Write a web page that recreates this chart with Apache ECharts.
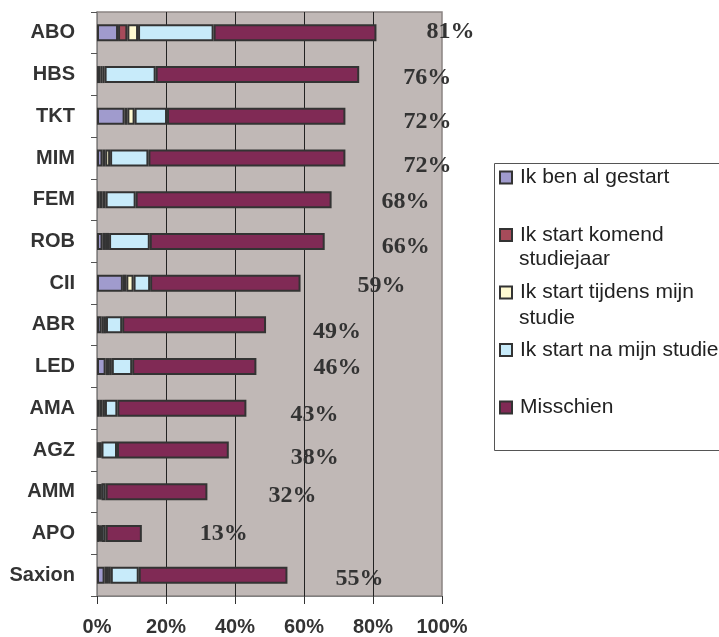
<!DOCTYPE html>
<html>
<head>
<meta charset="utf-8">
<script src="https://cdn.jsdelivr.net/npm/echarts@6/dist/echarts.min.js"></script>
<style>
html,body{margin:0;padding:0;background:#fff;}
#chart{width:719px;height:637px;}
</style>
</head>
<body>
<div id="chart"></div>
<script>
// Categories (top to bottom)
var categories = ['ABO','HBS','TKT','MIM','FEM','ROB','CII','ABR','LED','AMA','AGZ','AMM','APO','Saxion'];
// Series values (percent)
var benAlGestart   = [6.1, 1.0, 8.0, 1.6, 0.8, 1.6, 7.5, 1.3, 2.5, 0.8, 0.5, 0.5, 0.7, 2.2];
var startKomend    = [2.7, 0.6, 0.8, 0.8, 0.8, 1.0, 1.0, 0.7, 1.0, 0.8, 0.4, 0.4, 0.3, 1.0];
var startTijdens   = [3.1, 0.6, 2.1, 1.4, 0.9, 0.9, 2.1, 0.6, 0.8, 0.7, 0.4, 0.4, 0.3, 0.8];
var startNa        = [21.9, 14.8, 9.4, 11.1, 8.7, 11.8, 4.8, 4.7, 5.9, 3.6, 4.5, 1.2, 1.2, 8.1];
var misschien      = [47.2, 59.0, 51.7, 57.1, 56.8, 50.7, 43.6, 41.7, 36.0, 37.4, 32.4, 29.5, 10.5, 43.1];
// Total labels shown beside bars
var totals         = [81, 76, 72, 72, 68, 66, 59, 49, 46, 43, 38, 32, 13, 55];
// Axis tick labels
var xTicks = ['0%','20%','40%','60%','80%','100%'];
var seriesNames = ['Ik ben al gestart','Ik start komend studiejaar','Ik start tijdens mijn studie','Ik start na mijn studie','Misschien'];

// label placement (style): [dx, dy] px from bar end
var labelShift = [[50,-1],[44,3],[58,6],[58,8],[50,2],[57,5],[57,3],[47,7],[57,1],[44,7],[62,8],[61,4],[58,0],[48,4]];

var colors = ['#a09bcd','#a64b5a','#fffad2','#c8ebfa','#802a55'];
var values = [benAlGestart, startKomend, startTijdens, startNa, misschien];

var series = values.map(function(arr, si){
  var s = {
    name: seriesNames[si],
    type: 'bar',
    stack: 'total',
    barWidth: 17,
    itemStyle: {color: colors[si], borderColor: '#333', borderWidth: 2},
    emphasis: {disabled: true},
    data: arr.slice()
  };
  if (si === 4) {
    s.data = arr.map(function(v, i){
      return {
        value: v,
        label: {
          show: true,
          position: 'right',
          distance: 0,
          offset: labelShift[i],
          formatter: totals[i] + '%',
          fontFamily: '"Liberation Serif","Times New Roman",serif',
          fontWeight: 'bold',
          fontSize: 24,
          color: '#333'
        }
      };
    });
  }
  return s;
});

var legendFirst = {
  'Ik ben al gestart': 'Ik ben al gestart',
  'Ik start komend studiejaar': 'Ik start komend',
  'Ik start tijdens mijn studie': 'Ik start tijdens mijn',
  'Ik start na mijn studie': 'Ik start na mijn studie',
  'Misschien': 'Misschien'
};

var chart = echarts.init(document.getElementById('chart'), null, {renderer: 'canvas'});
chart.setOption({
  animation: false,
  backgroundColor: '#fff',
  grid: {
    left: 97, right: 277, top: 12, bottom: 41,
    show: true, backgroundColor: '#c0b8b6', borderColor: '#8a8482', borderWidth: 1.5
  },
  xAxis: {
    type: 'value', min: 0, max: 100, interval: 20,
    axisLine: {show: true, lineStyle: {color: '#808080', width: 1}},
    axisTick: {show: true, length: 8, lineStyle: {color: '#333'}},
    axisLabel: {
      margin: 21,
      formatter: function(v){ return xTicks[Math.round(v/20)]; },
      fontFamily: '"Liberation Sans",Arial,sans-serif', fontWeight: 'bold', fontSize: 20, color: '#333'
    },
    splitLine: {show: true, showMinLine: false, showMaxLine: false, lineStyle: {color: '#222', width: 1}}
  },
  yAxis: {
    type: 'category', inverse: true, data: categories,
    axisLine: {show: true, lineStyle: {color: '#808080', width: 1}},
    axisTick: {show: true, length: 6, lineStyle: {color: '#555'}},
    axisLabel: {
      margin: 22,
      fontFamily: '"Liberation Sans",Arial,sans-serif', fontWeight: 'bold', fontSize: 20, color: '#333'
    }
  },
  legend: {
    orient: 'vertical', left: 499, top: 167, padding: 0, itemGap: 36.5,
    itemWidth: 12, itemHeight: 12, icon: 'rect',
    itemStyle: {borderColor: '#333', borderWidth: 2},
    selectedMode: false,
    data: seriesNames,
    formatter: function(n){ return legendFirst[n]; },
    textStyle: {fontFamily: '"Liberation Sans",Arial,sans-serif', fontSize: 21, color: '#222', padding: [0,0,0,3]}
  },
  graphic: [
    {type: 'rect', left: 492, top: 161, shape: {width: 260, height: 287}, style: {fill: 'none', stroke: '#555', lineWidth: 1}, silent: true, z: -1},
    {type: 'text', left: 519, top: 249, style: {text: 'studiejaar', fontFamily: '"Liberation Sans",Arial,sans-serif', fontSize: 21, fill: '#222'}},
    {type: 'text', left: 519, top: 308, style: {text: 'studie', fontFamily: '"Liberation Sans",Arial,sans-serif', fontSize: 21, fill: '#222'}}
  ],
  series: series
});
</script>
</body>
</html>
